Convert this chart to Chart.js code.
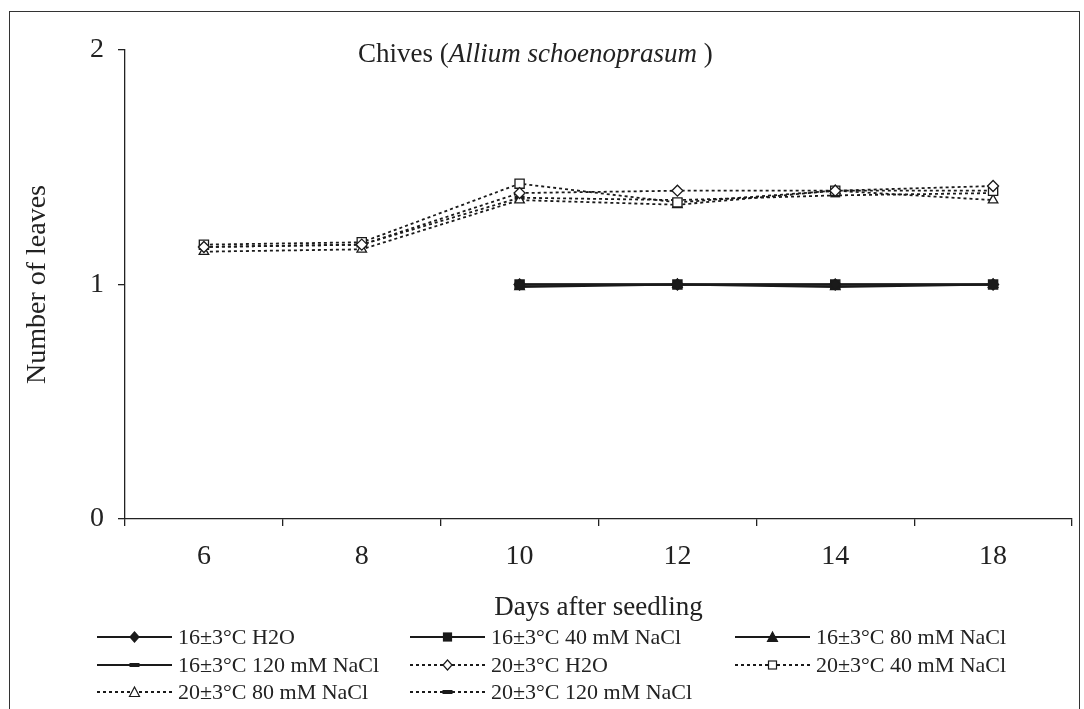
<!DOCTYPE html>
<html>
<head>
<meta charset="utf-8">
<script src="https://cdn.jsdelivr.net/npm/chart.js@4/dist/chart.umd.min.js"></script>
<style>
  html,body{margin:0;padding:0;background:#fff;}
  #wrap{position:relative;width:1084px;height:709px;overflow:hidden;background:#fff;}
  #frame{position:absolute;left:9px;top:11px;width:1071px;height:720px;border:1.5px solid #333;box-sizing:border-box;}
  #cv{position:absolute;left:0;top:0;}
  #title{position:absolute;top:38px;left:358px;font-family:"Liberation Serif",serif;font-size:27px;color:#222;white-space:nowrap;}
  .leg{position:absolute;font-family:"Liberation Serif",serif;font-size:22px;color:#222;white-space:nowrap;display:flex;align-items:center;}
  .leg svg{margin-right:6px;}
</style>
</head>
<body>
<div id="wrap">
  <canvas id="cv" width="1084" height="709"></canvas>
  <div id="frame"></div>
  <div id="title">Chives (<i>Allium schoenoprasum</i> )</div>
  <div id="legend"></div>
</div>
<script>
const categories = ['6', '8', '10', '12', '14', '18'];
const seriesNames = ['16±3°C H2O', '16±3°C 40 mM NaCl', '16±3°C 80 mM NaCl', '16±3°C 120 mM NaCl',
                     '20±3°C H2O', '20±3°C 40 mM NaCl', '20±3°C 80 mM NaCl', '20±3°C 120 mM NaCl'];
const t16_h2o  = [null, null, 1.00, 1.00, 1.00, 1.00];
const t16_40   = [null, null, 1.00, 1.00, 1.00, 1.00];
const t16_80   = [null, null, 0.99, 1.00, 0.99, 1.00];
const t16_120  = [null, null, 1.00, 1.00, 1.00, 1.00];
const t20_h2o  = [1.16, 1.17, 1.39, 1.40, 1.40, 1.42];
const t20_40   = [1.17, 1.18, 1.43, 1.35, 1.40, 1.40];
const t20_80   = [1.14, 1.15, 1.36, 1.34, 1.40, 1.36];
const t20_120  = [1.16, 1.17, 1.37, 1.36, 1.38, 1.39];
const yTicks = [0, 1, 2];

const seriesData = [t16_h2o, t16_40, t16_80, t16_120, t20_h2o, t20_40, t20_80, t20_120];
const markers = ['rectRot', 'rect', 'triangle', 'line', 'rectRot', 'rect', 'triangle', 'line'];

const datasets = seriesData.map((d, i) => {
  const dotted = i >= 4;
  const m = markers[i];
  const isLine = m === 'line';
  return {
    label: seriesNames[i],
    data: d,
    borderColor: '#1a1a1a',
    borderWidth: dotted ? 1.8 : 2.2,
    borderDash: dotted ? [3, 3] : [],
    pointStyle: m,
    pointRadius: isLine ? 5 : (m === 'rect' ? 6.5 : 5.5),
    pointBorderWidth: isLine ? 4 : 1.3,
    pointBackgroundColor: (dotted && !isLine) ? '#fff' : '#1a1a1a',
    pointBorderColor: '#1a1a1a',
    fill: false,
    tension: 0,
    spanGaps: false,
    order: i
  };
});

new Chart(document.getElementById('cv'), {
  type: 'line',
  data: { labels: categories, datasets },
  options: {
    responsive: false,
    animation: false,
    devicePixelRatio: 1,
    layout: { padding: { left: 0, top: 50, right: 12, bottom: 85 } },
    plugins: { legend: { display: false }, title: { display: false }, tooltip: { enabled: false } },
    scales: {
      x: {
        type: 'category',
        offset: true,
        grid: { display: true, drawOnChartArea: false, offset: true, tickLength: 7, color: '#222', lineWidth: 1.3 },
        border: { display: true, color: '#222', width: 1.3 },
        ticks: { color: '#222', font: { family: 'Liberation Serif', size: 28 }, padding: 14, maxRotation: 0 },
        title: { display: true, text: 'Days after seedling', color: '#222', font: { family: 'Liberation Serif', size: 27 }, padding: 0 },
        afterFit: (s) => { s.height = 105; }
      },
      y: {
        min: 0, max: 2,
        afterBuildTicks: (s) => { s.ticks = yTicks.map(v => ({ value: v })); },
        grid: { display: true, drawOnChartArea: false, tickLength: 7, color: '#222', lineWidth: 1.3 },
        border: { display: true, color: '#222', width: 1.3 },
        ticks: { color: '#222', font: { family: 'Liberation Serif', size: 28 }, padding: 14 },
        title: { display: true, text: 'Number of leaves', color: '#222', font: { family: 'Liberation Serif', size: 28 }, padding: 21 },
        afterFit: (s) => { s.width = 125; }
      }
    }
  }
});

// HTML legend
const legPos = [
  [97, 637], [410, 637], [735, 637],
  [97, 665], [410, 665], [735, 665],
  [97, 692], [410, 692]
];
function markerSvg(i) {
  const dotted = i >= 4;
  const m = markers[i];
  const fill = dotted ? '#fff' : '#1a1a1a';
  const line = dotted
    ? '<line x1="0" y1="8" x2="75" y2="8" stroke="#1a1a1a" stroke-width="1.8" stroke-dasharray="3,3"/>'
    : '<line x1="0" y1="8" x2="75" y2="8" stroke="#1a1a1a" stroke-width="2"/>';
  let mk = '';
  if (m === 'rectRot') mk = `<polygon points="37.5,3 42,8 37.5,13 33,8" fill="${fill}" stroke="#1a1a1a" stroke-width="1.2"/>`;
  else if (m === 'rect') mk = `<rect x="33.5" y="4" width="8" height="8" fill="${fill}" stroke="#1a1a1a" stroke-width="1.2"/>`;
  else if (m === 'triangle') mk = `<polygon points="37.5,3 42.5,12.5 32.5,12.5" fill="${fill}" stroke="#1a1a1a" stroke-width="1.2"/>`;
  else mk = `<rect x="32.5" y="6" width="10" height="4" fill="#1a1a1a"/>`;
  return `<svg width="75" height="16" viewBox="0 0 75 16">${line}${mk}</svg>`;
}
const legend = document.getElementById('legend');
seriesNames.forEach((name, i) => {
  const d = document.createElement('div');
  d.className = 'leg';
  d.style.left = legPos[i][0] + 'px';
  d.style.top = (legPos[i][1] - 13) + 'px';
  d.innerHTML = markerSvg(i) + '<span>' + name + '</span>';
  legend.appendChild(d);
});
</script>
</body>
</html>
